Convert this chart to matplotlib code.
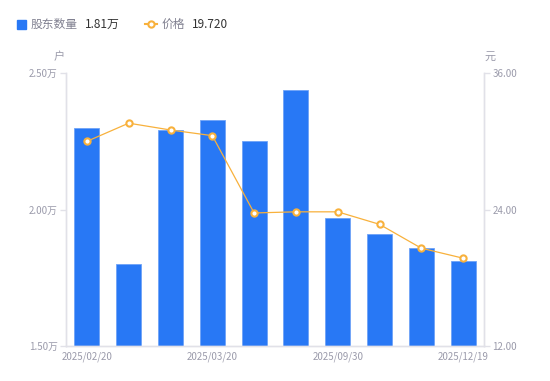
import matplotlib
matplotlib.use("Agg")
import matplotlib.pyplot as plt
import numpy as np
from matplotlib.lines import Line2D
from matplotlib.patches import Rectangle

plt.rcParams["font.family"] = ["Noto Sans CJK SC", "DejaVu Sans"]

# report dates (only every third one is labelled in the chart)
dates = ["2025/02/20", "2025/02/28", "2025/03/10", "2025/03/20", "2025/03/31",
         "2025/06/30", "2025/09/30", "2025/10/31", "2025/11/30", "2025/12/19"]
holders = [2.30, 1.80, 2.29, 2.33, 2.25, 2.44, 1.97, 1.91, 1.86, 1.81]   # 万户
price = [30.0, 31.6, 31.0, 30.5, 23.7, 23.8, 23.8, 22.7, 20.6, 19.72]    # 元

left_ticks = [1.50, 2.00, 2.50]
right_ticks = [12.0, 24.0, 36.0]

BLUE = "#2878f5"
ORANGE = "#f8b13c"
GREY = "#9b9bab"
AXIS = "#e1e1e8"

fig = plt.figure(figsize=(5.5, 3.81), dpi=100)
ax = fig.add_axes([0.12, 0.092, 0.76, 0.716])
ax2 = ax.twinx()

x = np.arange(len(dates))
ax.bar(x, holders, width=0.6, color=BLUE, edgecolor="#6fa3f7", linewidth=0.6,
       bottom=0, zorder=2)
ax.set_ylim(1.50, 2.50)
ax.set_xlim(-0.5, len(dates) - 0.5)
ax.set_yticks(left_ticks)
ax.set_yticklabels([f"{v:.2f}万" for v in left_ticks])
ax.set_xticks(x[::3])
ax.set_xticklabels(dates[::3])

ax2.plot(x, price, color=ORANGE, linewidth=0.9, marker="o", markersize=4.5,
         markerfacecolor="white", markeredgecolor=ORANGE, markeredgewidth=1.5,
         zorder=3)
ax2.set_ylim(12, 36)
ax2.set_yticks(right_ticks)
ax2.set_yticklabels([f"{v:.2f}" for v in right_ticks])

for a in (ax, ax2):
    for side in ("top",):
        a.spines[side].set_visible(False)
    for side in ("left", "right", "bottom"):
        a.spines[side].set_color(AXIS)
        a.spines[side].set_linewidth(1.0)
    a.tick_params(axis="y", colors=AXIS, labelcolor=GREY, labelsize=7,
                  length=4, width=1.0, pad=2)
ax.tick_params(axis="x", length=0, labelcolor=GREY, labelsize=7, pad=4)

# axis units
fig.text(59 / 550, 1 - 57 / 381, "户", color=GREY, fontsize=8, ha="center", va="center")
fig.text(490 / 550, 1 - 57 / 381, "元", color=GREY, fontsize=8, ha="center", va="center")

# legend row
ly = 1 - 24 / 381
fig.patches.append(Rectangle((17 / 550, ly - 4.5 / 381), 9 / 550, 9 / 381,
                             transform=fig.transFigure, color=BLUE))
fig.text(31 / 550, ly, "股东数量", color="#808090", fontsize=8.5, va="center")
fig.text(85 / 550, ly, f"{holders[-1]:.2f}万", color="#333333", fontsize=8.5, va="center")
fig.lines.append(Line2D([145 / 550, 157 / 550], [ly, ly], transform=fig.transFigure,
                        color=ORANGE, linewidth=1.5))
fig.lines.append(Line2D([151 / 550], [ly], transform=fig.transFigure, marker="o",
                        markersize=4.5, markerfacecolor="white",
                        markeredgecolor=ORANGE, markeredgewidth=1.5))
fig.text(162 / 550, ly, "价格", color="#808090", fontsize=8.5, va="center")
fig.text(192 / 550, ly, f"{price[-1]:.3f}", color="#333333", fontsize=8.5, va="center")

fig.savefig("out.png", dpi=100)
